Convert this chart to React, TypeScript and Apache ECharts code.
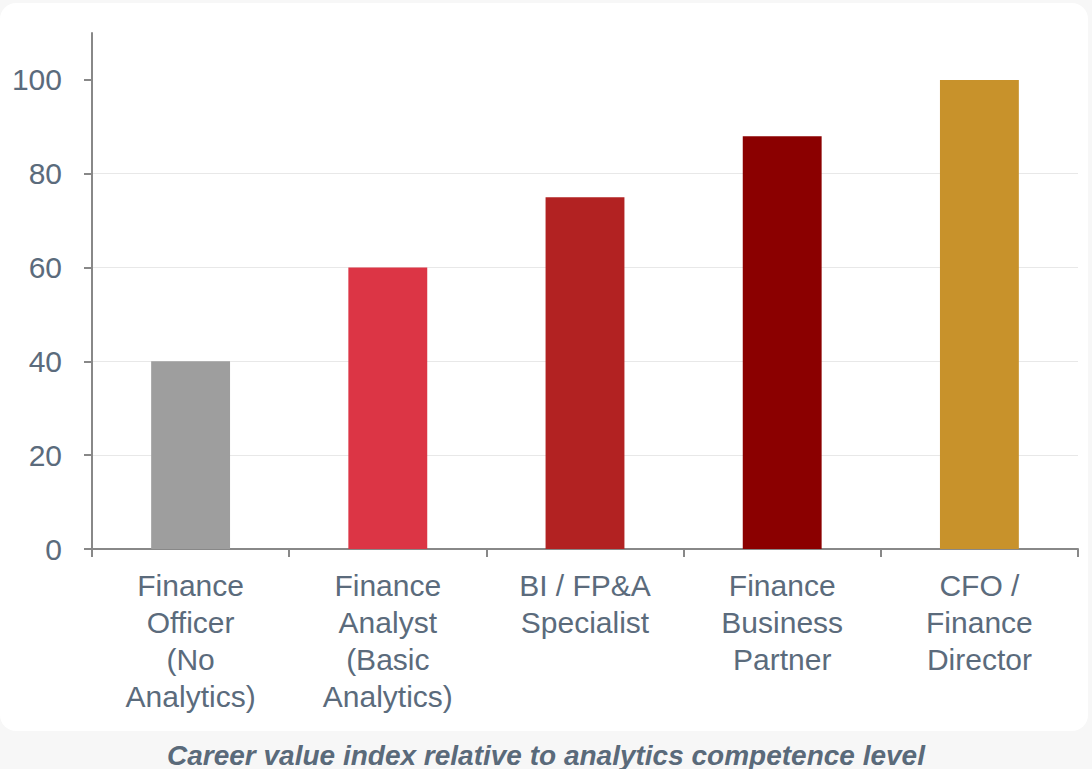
import React, { useEffect, useRef } from "react";
import * as echarts from "echarts";

const categories = [
  "Finance\nOfficer\n(No\nAnalytics)",
  "Finance\nAnalyst\n(Basic\nAnalytics)",
  "BI / FP&A\nSpecialist",
  "Finance\nBusiness\nPartner",
  "CFO /\nFinance\nDirector",
];
const values = [40, 60, 75, 88, 100];
const barColors = ["#9e9e9e", "#dc3545", "#b22222", "#8b0000", "#c8922b"];
const yTicks = [0, 20, 40, 60, 80, 100];
const caption = "Career value index relative to analytics competence level";

export default function App() {
  const ref = useRef<HTMLDivElement>(null);
  useEffect(() => {
    document.body.style.margin = "0";
    const chart = echarts.init(ref.current!, null, { renderer: "svg" });
    const textColor = "#5b6b7c";
    const font = "Liberation Sans, Arial, sans-serif";
    chart.setOption({
      animation: false,
      backgroundColor: "#f7f7f7",
      graphic: [
        {
          type: "rect",
          z: -10,
          silent: true,
          shape: { x: 0, y: 3, width: 1088, height: 728, r: 16 },
          style: { fill: "#ffffff" },
        },
      ],
      title: {
        text: caption,
        left: "center",
        top: 736,
        textStyle: {
          fontFamily: font,
          fontStyle: "italic",
          fontWeight: "bold",
          fontSize: 28,
          color: "#5a6a7a",
        },
      },
      grid: { left: 92, right: 14, top: 33, bottom: 220, containLabel: false },
      xAxis: {
        type: "category",
        data: categories,
        axisLine: { lineStyle: { color: "#888888", width: 2 } },
        axisTick: { show: true, length: 8, lineStyle: { color: "#888888", width: 2 } },
        axisLabel: {
          interval: 0,
          margin: 18,
          fontSize: 30,
          lineHeight: 37,
          color: textColor,
          fontFamily: font,
        },
      },
      yAxis: {
        type: "value",
        min: 0,
        max: 110,
        interval: 20,
        axisLine: { show: true, lineStyle: { color: "#888888", width: 2 } },
        axisTick: { show: true, length: 8, customValues: yTicks, lineStyle: { color: "#888888", width: 2 } },
        axisLabel: {
          customValues: yTicks,
          margin: 30,
          fontSize: 30,
          color: textColor,
          fontFamily: font,
        },
        splitLine: { show: true, showMaxLine: false, lineStyle: { color: "#e8e8e8", width: 1 } },
      },
      series: [
        {
          type: "bar",
          barWidth: "40%",
          data: values.map((v, i) => ({ value: v, itemStyle: { color: barColors[i] } })),
        },
      ],
    });
    return () => chart.dispose();
  }, []);
  return <div ref={ref} style={{ width: 1092, height: 769 }} />;
}
